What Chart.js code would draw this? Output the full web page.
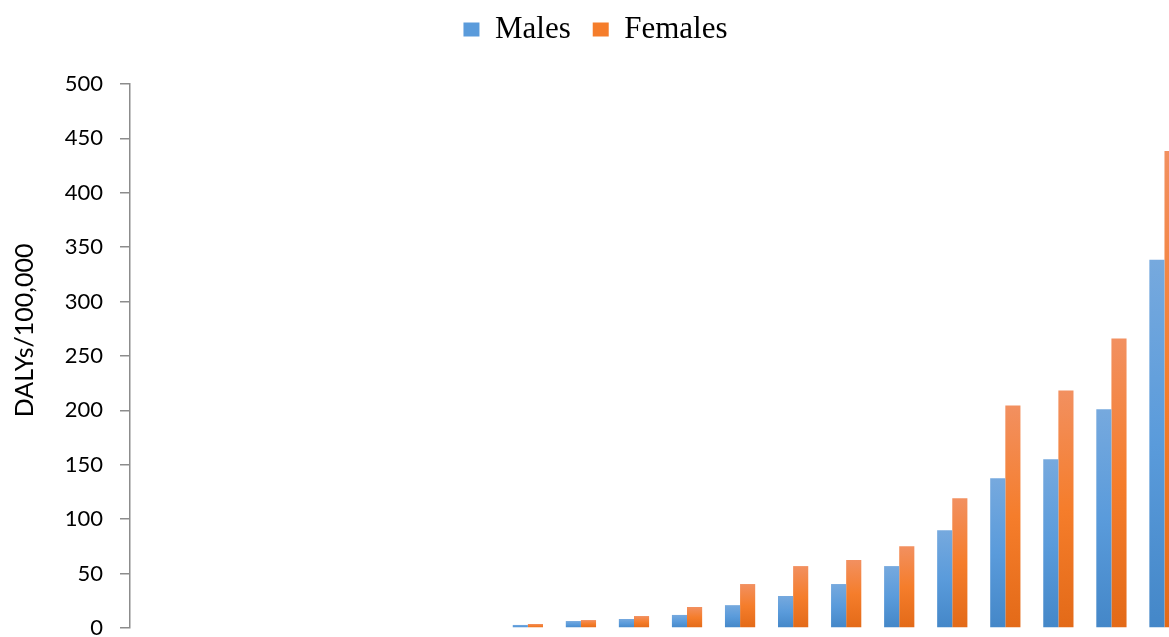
<!DOCTYPE html>
<html lang="en">
	<head>
		<meta charset="UTF-8" />
		<meta name="viewport" content="width=device-width, initial-scale=1.0" />
		<title>DALYs per 100,000 by age and sex</title>
		<script src="https://cdn.jsdelivr.net/npm/chart.js"></script>
		<style>
			html,
			body {
				margin: 0;
				padding: 0;
				background: #ffffff;
				overflow: hidden;
			}
		</style>
	</head>
	<body>
		<!-- canvas is a bit larger than the window: the x labels and the right edge fall outside -->
		<canvas id="barChart" width="1200" height="680"></canvas>

		<script>
			// age groups (GBD style)
			const ageGroups = [
				"Early Neonatal",
				"Late Neonatal",
				"Post Neonatal",
				"1-4",
				"5-9",
				"10-14",
				"15-19",
				"20-24",
				"25-29",
				"30-34",
				"35-39",
				"40-44",
				"45-49",
				"50-54",
				"55-59",
				"60-64",
				"65-69",
				"70-74",
				"75-79",
				"80+",
			];
			const males = [
				0, 0, 0, 0, 0, 0, 0, 2.8, 6.4, 8.3, 12, 21, 29.4, 40.4, 56.9,
				89.9, 137.6, 155, 201, 338.5,
			];
			const females = [
				0, 0, 0, 0, 0, 0, 0, 3.7, 7.3, 11, 19.3, 40.4, 56.9, 62.4,
				75.2, 119.3, 204.6, 218.3, 266, 438.5,
			];
			const yTicks = { min: 0, max: 500, step: 50 };

			// light top -> dark bottom, one gradient per bar
			const blueStops = ["#76a9de", "#5a9bdb", "#4487c8"];
			const orangeStops = ["#f29060", "#f57d2b", "#e36a18"];

			function barGradient(stops) {
				return (context) => {
					const chart = context.chart;
					if (!chart.chartArea || context.type !== "data") return stops[1];
					const y = chart.scales.y;
					const top = y.getPixelForValue(context.raw);
					const bottom = y.getPixelForValue(0);
					if (bottom - top < 1) return stops[1];
					const g = chart.ctx.createLinearGradient(0, top, 0, bottom);
					g.addColorStop(0, stops[0]);
					g.addColorStop(0.5, stops[1]);
					g.addColorStop(1, stops[2]);
					return g;
				};
			}

			// extra space under the legend
			const legendGap = {
				id: "legendGap",
				beforeInit(chart) {
					const fit = chart.legend.fit;
					chart.legend.fit = function () {
						fit.bind(chart.legend)();
						this.height += 29;
					};
				},
			};

			const ctx = document.getElementById("barChart").getContext("2d");
			new Chart(ctx, {
				type: "bar",
				data: {
					labels: ageGroups,
					datasets: [
						{
							label: "Males",
							data: males,
							backgroundColor: barGradient(blueStops),
							borderWidth: 0,
						},
						{
							label: "Females",
							data: females,
							backgroundColor: barGradient(orangeStops),
							borderWidth: 0,
						},
					],
				},
				options: {
					responsive: false,
					animation: false,
					devicePixelRatio: 1,
					// negative top pulls the legend up (its padding is large for the item gap)
					layout: { padding: { top: -8, right: 9, left: 0, bottom: 0 } },
					datasets: {
						bar: { categoryPercentage: 0.57, barPercentage: 1.0 },
					},
					plugins: {
						tooltip: { enabled: false },
						legend: {
							position: "top",
							labels: {
								boxWidth: 16,
								boxHeight: 14,
								padding: 22,
								color: "#000000",
								font: { family: "'Liberation Serif', serif", size: 31 },
							},
						},
					},
					scales: {
						x: {
							grid: { display: false, drawTicks: false },
							border: { display: false },
							ticks: {
								padding: 14,
								color: "#000000",
								font: { family: "Lato", size: 16 },
							},
							afterFit(scale) {
								scale.height = 52;
							},
						},
						y: {
							min: yTicks.min,
							max: yTicks.max,
							grid: {
								drawOnChartArea: false,
								drawTicks: true,
								tickLength: 10,
								color: "#8c8c8c",
								lineWidth: 1.5,
							},
							border: { display: true, color: "#8c8c8c", width: 1.5 },
							ticks: {
								stepSize: yTicks.step,
								padding: 17,
								color: "#000000",
								font: { family: "Lato", size: 22 },
							},
							title: {
								display: true,
								// leading spaces lift the title a little, as in the original
								text: "        DALYs/100,000",
								color: "#000000",
								padding: { top: 10, bottom: 0 },
								font: { family: "Lato", size: 25 },
							},
							afterFit(scale) {
								scale.width = 130;
							},
						},
					},
				},
				plugins: [legendGap],
			});
		</script>
	</body>
</html>
